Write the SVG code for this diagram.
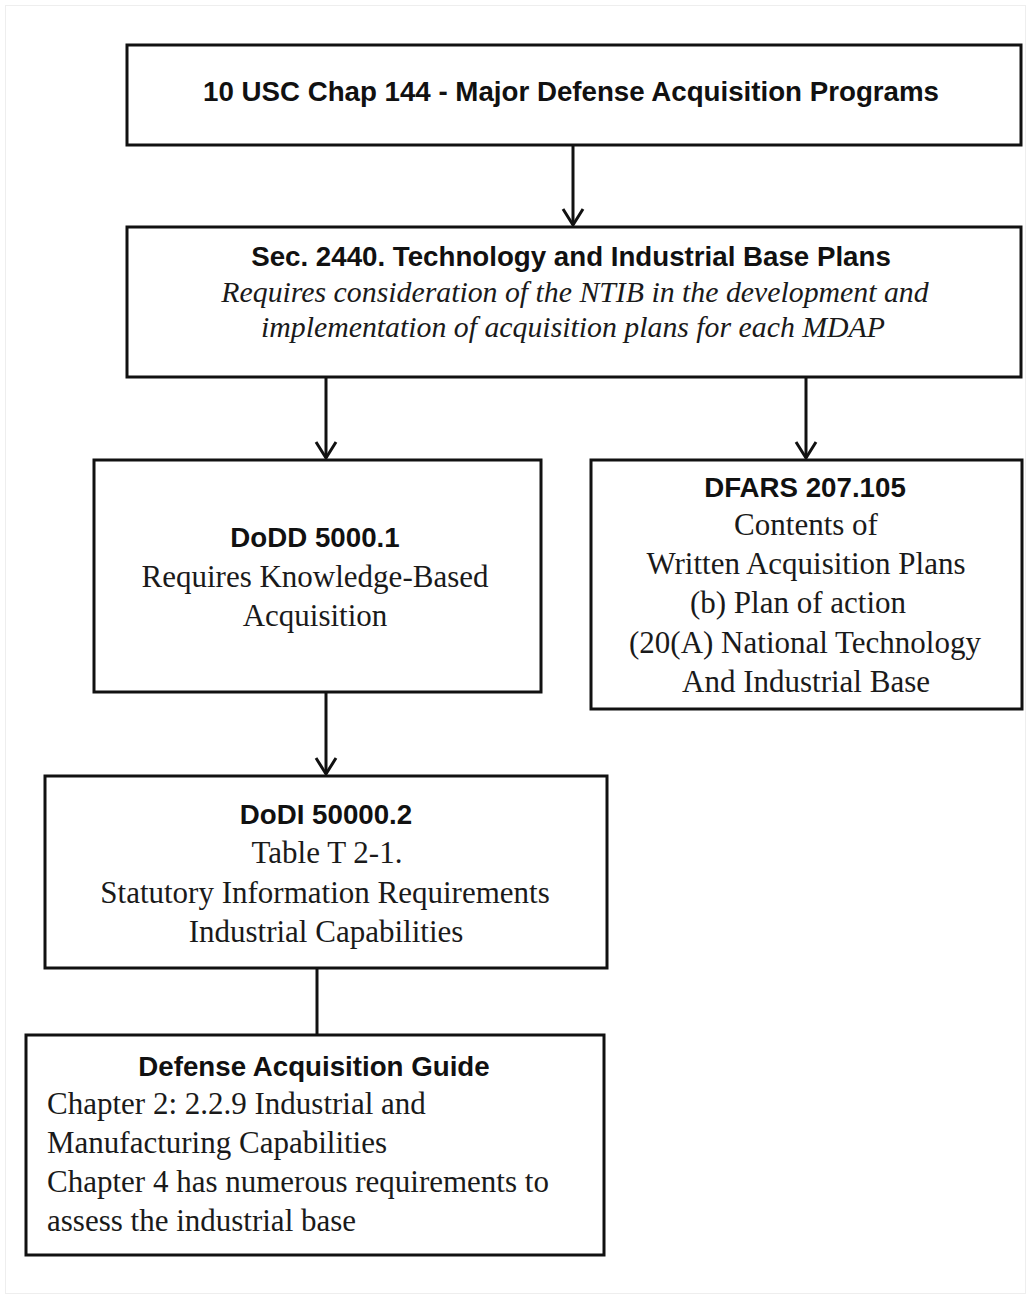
<svg xmlns="http://www.w3.org/2000/svg" width="1031" height="1299" viewBox="0 0 1031 1299">
  <style>
    .box { fill: #ffffff; stroke: #111111; stroke-width: 3; }
    .edge { fill: none; stroke: #111111; stroke-width: 3; }
    .head { font-family: "Liberation Sans", Arial, sans-serif; font-weight: bold; font-size: 27.7px; fill: #111111; text-anchor: middle; }
    .body { font-family: "Liberation Serif", "Times New Roman", serif; font-size: 31px; fill: #1a1a1a; text-anchor: middle; }
    .ital { font-family: "Liberation Serif", "Times New Roman", serif; font-style: italic; font-size: 29.8px; fill: #1a1a1a; text-anchor: middle; }
    .left { text-anchor: start; }
  </style>
  <defs>
    <marker id="arrow" markerUnits="userSpaceOnUse" viewBox="-20 -14 24 28" markerWidth="24" markerHeight="28" refX="0" refY="0" orient="auto">
      <path d="M -16 -10 L 0 0 L -16 10" fill="none" stroke="#111111" stroke-width="3"/>
    </marker>
  </defs>

  <rect x="0" y="0" width="1031" height="1299" fill="#ffffff"/>
  <rect x="5.5" y="5.5" width="1020" height="1288" fill="none" stroke="#eeeeee" stroke-width="1"/>

  <!-- connectors -->
  <g id="connectors">
    <line class="edge" x1="573" y1="145" x2="573" y2="225" marker-end="url(#arrow)"/>
    <line class="edge" x1="326" y1="377" x2="326" y2="458" marker-end="url(#arrow)"/>
    <line class="edge" x1="806" y1="377" x2="806" y2="458" marker-end="url(#arrow)"/>
    <line class="edge" x1="326" y1="692" x2="326" y2="774" marker-end="url(#arrow)"/>
    <line class="edge" x1="317" y1="968" x2="317" y2="1035"/>
  </g>

  <!-- 10 USC Chapter 144 -->
  <g id="usc-chap-144">
    <rect class="box" x="127" y="45" width="894" height="100"/>
    <text class="head" x="571" y="101">10 USC Chap 144 - Major Defense Acquisition Programs</text>
  </g>

  <!-- Sec. 2440 -->
  <g id="sec-2440">
    <rect class="box" x="127" y="227" width="894" height="150"/>
    <text class="head" x="571" y="266">Sec. 2440. Technology and Industrial Base Plans</text>
    <text class="ital" x="575" y="302">Requires consideration of the NTIB in the development and</text>
    <text class="ital" x="573" y="337">implementation of acquisition plans for each MDAP</text>
  </g>

  <!-- DoDD 5000.1 -->
  <g id="dodd-5000-1">
    <rect class="box" x="94" y="460" width="447" height="232"/>
    <text class="head" x="315" y="547">DoDD 5000.1</text>
    <text class="body" x="315" y="587">Requires Knowledge-Based</text>
    <text class="body" x="315" y="626">Acquisition</text>
  </g>

  <!-- DFARS 207.105 -->
  <g id="dfars-207-105">
    <rect class="box" x="591" y="460" width="431" height="249"/>
    <text class="head" x="805" y="497">DFARS 207.105</text>
    <text class="body" x="806" y="535">Contents of</text>
    <text class="body" x="806" y="574">Written Acquisition Plans</text>
    <text class="body" x="798" y="613">(b) Plan of action</text>
    <text class="body" x="805" y="653">(20(A) National Technology</text>
    <text class="body" x="806" y="692">And Industrial Base</text>
  </g>

  <!-- DoDI 5000.2 -->
  <g id="dodi-5000-2">
    <rect class="box" x="45" y="776" width="562" height="192"/>
    <text class="head" x="326" y="824">DoDI 50000.2</text>
    <text class="body" x="327" y="863">Table T 2-1.</text>
    <text class="body" x="325" y="903">Statutory Information Requirements</text>
    <text class="body" x="326" y="942">Industrial Capabilities</text>
  </g>

  <!-- Defense Acquisition Guide -->
  <g id="defense-acquisition-guide">
    <rect class="box" x="26" y="1035" width="578" height="220"/>
    <text class="head" x="314" y="1076">Defense Acquisition Guide</text>
    <text class="body left" x="47" y="1114">Chapter 2: 2.2.9 Industrial and</text>
    <text class="body left" x="47" y="1153">Manufacturing Capabilities</text>
    <text class="body left" x="47" y="1192">Chapter 4 has numerous requirements to</text>
    <text class="body left" x="47" y="1231">assess the industrial base</text>
  </g>
</svg>
